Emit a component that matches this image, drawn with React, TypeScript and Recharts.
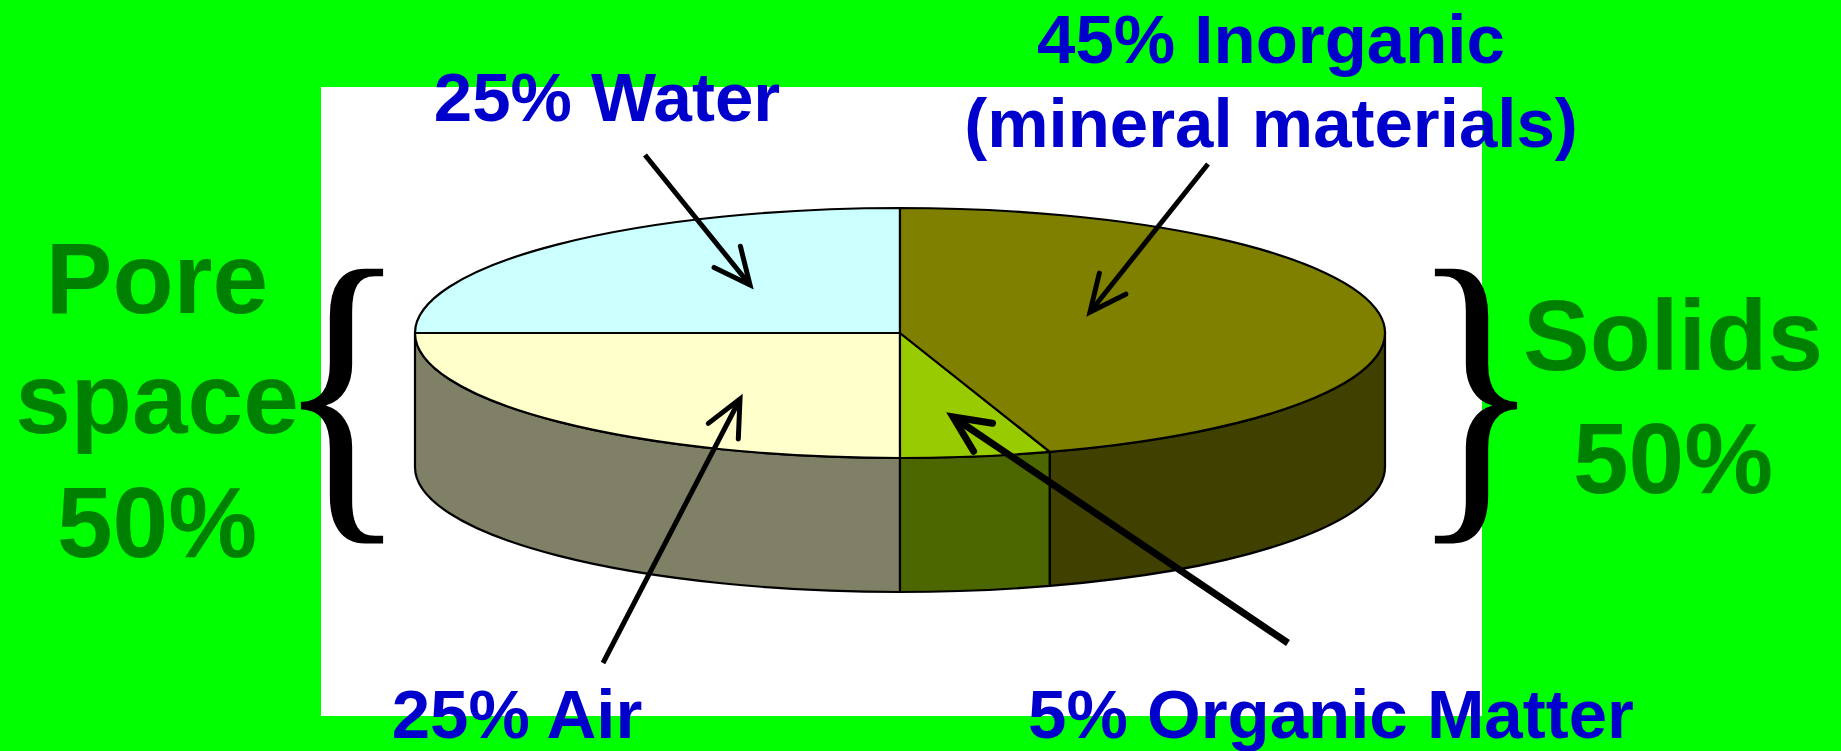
import React from 'react';
import { PieChart, Pie, Cell } from 'recharts';

// ---- data ----
const sliceNames = ['Water', 'Air', 'Organic Matter', 'Inorganic'];
const sliceValues = [25, 25, 5, 45];
const sliceNotes = ['', '', '', '(mineral materials)'];
const groupNames = ['Pore space', 'Solids'];
const sliceGroups = [0, 0, 1, 1];

// ---- styles ----
const topColors = ['#CCFFFF', '#FFFFCC', '#99CC00', '#808000'];
const sideColors = ['#808080', '#808066', '#4C6600', '#404000'];
const BLUE = '#0000CC';
const DARK_GREEN = '#008000';
const FONT = '"Liberation Sans", Arial, Helvetica, sans-serif';
const SERIF = '"Liberation Serif", "Times New Roman", serif';

const data = sliceNames.map((name, i) => ({ name, value: sliceValues[i] }));
const groupTotals = groupNames.map((_, g) =>
  sliceValues.reduce((acc, v, i) => (sliceGroups[i] === g ? acc + v : acc), 0)
);

const W = 1841;
const H = 751;
const PIE_CX = 900;
const PIE_CY = 333;
const PIE_R = 485;
const FLAT = 125 / 485;
const DEPTH = 134 / 485;
const RAD = Math.PI / 180;

function pt(cx: number, cy: number, rx: number, ry: number, a: number, dy = 0) {
  return [cx + rx * Math.cos(a * RAD), cy - ry * Math.sin(a * RAD) + dy];
}

function TopSlice(props: any) {
  const { cx, cy, outerRadius, startAngle, endAngle, fill } = props;
  const rx = outerRadius;
  const ry = outerRadius * FLAT;
  const s = Math.min(startAngle, endAngle);
  const e = Math.max(startAngle, endAngle);
  const [x1, y1] = pt(cx, cy, rx, ry, s);
  const [x2, y2] = pt(cx, cy, rx, ry, e);
  const large = e - s > 180 ? 1 : 0;
  const d = `M${cx},${cy} L${x1},${y1} A${rx},${ry} 0 ${large} 0 ${x2},${y2} Z`;
  return <path d={d} fill={fill} stroke="#000" strokeWidth={2.2} strokeLinejoin="round" />;
}

function SideSlice(props: any) {
  const { cx, cy, outerRadius, startAngle, endAngle, fill } = props;
  const rx = outerRadius;
  const ry = outerRadius * FLAT;
  const depth = outerRadius * DEPTH;
  const a0 = Math.min(startAngle, endAngle);
  const a1 = Math.max(startAngle, endAngle);
  const s = Math.max(a0, 180);
  const e = Math.min(a1, 360);
  if (e <= s) return <g />;
  const [x1, y1] = pt(cx, cy, rx, ry, s);
  const [x2, y2] = pt(cx, cy, rx, ry, e);
  const [x3, y3] = pt(cx, cy, rx, ry, e, depth);
  const [x4, y4] = pt(cx, cy, rx, ry, s, depth);
  const large = e - s > 180 ? 1 : 0;
  const d = `M${x1},${y1} A${rx},${ry} 0 ${large} 0 ${x2},${y2} L${x3},${y3} A${rx},${ry} 0 ${large} 1 ${x4},${y4} Z`;
  return <path d={d} fill={fill} stroke="#000" strokeWidth={2.2} strokeLinejoin="round" />;
}

function Arrow({ x1, y1, x2, y2, w }: { x1: number; y1: number; x2: number; y2: number; w: number }) {
  const ang = Math.atan2(y1 - y2, x1 - x2);
  const len = 40;
  const spread = 25 * RAD;
  const bx1 = x2 + len * Math.cos(ang + spread);
  const by1 = y2 + len * Math.sin(ang + spread);
  const bx2 = x2 + len * Math.cos(ang - spread);
  const by2 = y2 + len * Math.sin(ang - spread);
  return (
    <g stroke="#000" strokeWidth={w} fill="none" strokeLinecap="round" strokeLinejoin="miter">
      <line x1={x1} y1={y1} x2={x2} y2={y2} strokeLinecap="butt" />
      <polyline points={`${bx1},${by1} ${x2},${y2} ${bx2},${by2}`} />
    </g>
  );
}

const labelText = (i: number) => `${sliceValues[i]}% ${sliceNames[i]}`;

export default function App() {
  return (
    <div style={{ position: 'absolute', left: 0, top: 0, width: W, height: H, background: '#00FF00', overflow: 'hidden' }}>
      <div style={{ position: 'absolute', left: 321, top: 87, width: 1161, height: 629, background: '#FFFFFF' }} />
      <div style={{ position: 'absolute', left: 0, top: 0 }}>
        <PieChart width={W} height={H} margin={{ top: 0, right: 0, bottom: 0, left: 0 }}>
          <Pie
            data={data}
            dataKey="value"
            nameKey="name"
            cx={PIE_CX}
            cy={PIE_CY}
            outerRadius={PIE_R}
            startAngle={90}
            endAngle={450}
            isAnimationActive={false}
            stroke="#000"
            label={false}
            labelLine={false}
            shape={SideSlice}
            activeShape={SideSlice}
          >
            {data.map((d, i) => (
              <Cell key={`s-${d.name}`} fill={sideColors[i]} />
            ))}
          </Pie>
          <Pie
            data={data}
            dataKey="value"
            nameKey="name"
            cx={PIE_CX}
            cy={PIE_CY}
            outerRadius={PIE_R}
            startAngle={90}
            endAngle={450}
            isAnimationActive={false}
            stroke="#000"
            label={false}
            labelLine={false}
            shape={TopSlice}
            activeShape={TopSlice}
          >
            {data.map((d, i) => (
              <Cell key={`t-${d.name}`} fill={topColors[i]} />
            ))}
          </Pie>
        </PieChart>
      </div>
      <svg width={W} height={H} style={{ position: 'absolute', left: 0, top: 0, pointerEvents: 'none' }}>
        {/* braces */}
        <g transform="translate(342,499) scale(0.83,1)">
          <text x={0} y={0} fontFamily={SERIF} fontSize={332} textAnchor="middle" fill="#000">{'{'}</text>
        </g>
        <g transform="translate(1476,499) scale(0.83,1)">
          <text x={0} y={0} fontFamily={SERIF} fontSize={332} textAnchor="middle" fill="#000">{'}'}</text>
        </g>

        {/* group labels */}
        <g fontFamily={FONT} fontWeight="bold" fontSize={100} fill={DARK_GREEN} textAnchor="middle">
          <text x={157} y={313}>{groupNames[0].split(' ')[0]}</text>
          <text x={157} y={433}>{groupNames[0].split(' ')[1]}</text>
          <text x={157} y={557}>{`${groupTotals[0]}%`}</text>
          <text x={1673} y={370}>{groupNames[1]}</text>
          <text x={1673} y={493}>{`${groupTotals[1]}%`}</text>
        </g>

        {/* arrows */}
        <Arrow x1={645} y1={155} x2={750} y2={285} w={5} />
        <Arrow x1={1208} y1={164} x2={1090} y2={312} w={5} />
        <Arrow x1={603} y1={663} x2={740} y2={399} w={5} />
        <Arrow x1={1288} y1={643} x2={953} y2={417} w={7} />

        {/* slice labels */}
        <g fontFamily={FONT} fontWeight="bold" fontSize={69} fill={BLUE} textAnchor="middle">
          <text x={607} y={121}>{labelText(0)}</text>
          <text x={517} y={738}>{labelText(1)}</text>
          <text x={1331} y={738}>{labelText(2)}</text>
          <text x={1271} y={63}>{labelText(3)}</text>
          <text x={1271} y={147}>{sliceNotes[3]}</text>
        </g>
      </svg>
    </div>
  );
}
